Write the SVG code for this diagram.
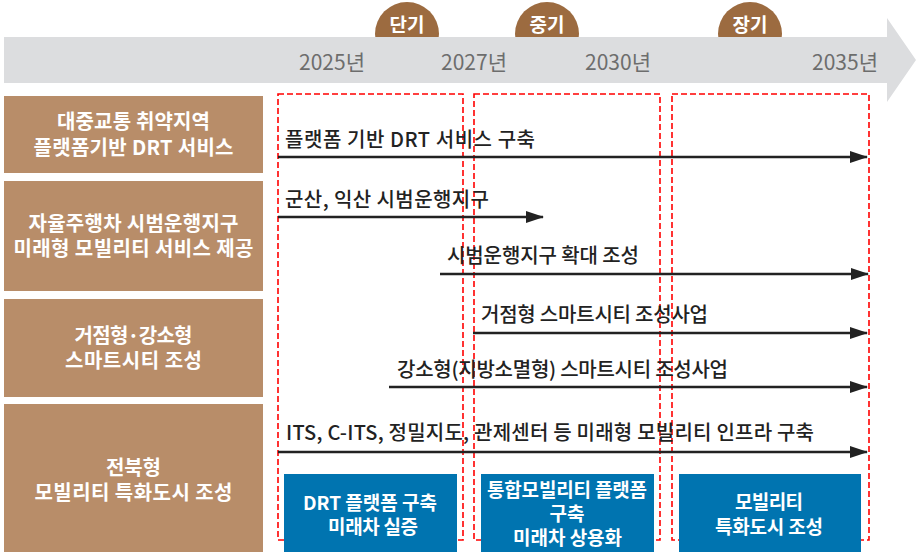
<svg xmlns="http://www.w3.org/2000/svg" width="917" height="552" viewBox="0 0 917 552">
<style>
.t{font-family:"Noto Sans CJK KR","Noto Sans",sans-serif;}
.yr{font-size:21px;fill:#6d6d6d;text-anchor:middle;}
.ph{font-size:19px;fill:#fff;font-weight:bold;text-anchor:middle;}
.cat{fill:#b88d69;}
.ct{font-size:20px;fill:#fff;font-weight:bold;text-anchor:middle;}
.lb{font-size:20px;fill:#222;font-weight:500;}
.ar{stroke:#222;stroke-width:2.5;fill:none;marker-end:url(#ah);}
.dash{fill:none;stroke:#f00;stroke-width:1.6;stroke-dasharray:6 3;}
.bl{fill:#0074b0;}
.bt{font-size:19px;fill:#fff;font-weight:bold;text-anchor:middle;}
</style>
<defs>
<marker id="ah" markerWidth="18" markerHeight="12" refX="17" refY="6" orient="auto" markerUnits="userSpaceOnUse">
<path d="M0,0 L18,6 L0,12 Z" fill="#222"/>
</marker>
</defs>
<g id="timeline">
<circle cx="407" cy="34" r="32" fill="#9c6b40"/>
<circle cx="547" cy="34" r="32" fill="#9c6b40"/>
<circle cx="750" cy="34" r="32" fill="#9c6b40"/>
<text class="t ph" x="407" y="32">단기</text>
<text class="t ph" x="547" y="32">중기</text>
<text class="t ph" x="750" y="32">장기</text>
<path d="M4,37 H887 V18 L916,60 L887,102 V83 H4 Z" fill="#dcdddf"/>
<text class="t yr" x="332" y="70">2025년</text>
<text class="t yr" x="474" y="70">2027년</text>
<text class="t yr" x="618" y="70">2030년</text>
<text class="t yr" x="845" y="70">2035년</text>
</g>
<g id="cat1"><rect class="cat" x="4" y="96" width="259" height="77"/>
<text class="t ct" x="133.5" y="129" textLength="153">대중교통 취약지역</text><text class="t ct" x="133.5" y="155" textLength="200">플랫폼기반 DRT 서비스</text></g>
<g id="cat2"><rect class="cat" x="4" y="181" width="259" height="110"/>
<text class="t ct" x="133.5" y="231" textLength="210">자율주행차 시범운행지구</text><text class="t ct" x="133.5" y="256" textLength="240">미래형 모빌리티 서비스 제공</text></g>
<g id="cat3"><rect class="cat" x="4" y="299" width="259" height="98"/>
<text class="t ct" x="133.5" y="343" textLength="118">거점형·강소형</text><text class="t ct" x="133.5" y="368" textLength="137">스마트시티 조성</text></g>
<g id="cat4"><rect class="cat" x="4" y="404" width="259" height="148"/>
<text class="t ct" x="133.5" y="475" textLength="55">전북형</text><text class="t ct" x="133.5" y="500" textLength="198">모빌리티 특화도시 조성</text></g>
<g id="phases">
<rect class="dash" x="278" y="94" width="185" height="446"/>
<rect class="dash" x="474" y="94" width="186" height="446"/>
<rect class="dash" x="672" y="94" width="197" height="446"/>
</g>
<g id="connectors">
<line class="ar" x1="278" y1="157" x2="867" y2="157"/>
<line class="ar" x1="278" y1="217" x2="543" y2="217"/>
<line class="ar" x1="440" y1="274" x2="868" y2="274"/>
<line class="ar" x1="473" y1="333" x2="867" y2="333"/>
<line class="ar" x1="389" y1="387" x2="867" y2="387"/>
<line class="ar" x1="278" y1="452" x2="867" y2="452"/>
</g>
<g id="labels">
<text class="t lb" x="285" y="147" textLength="250">플랫폼 기반 DRT 서비스 구축</text>
<text class="t lb" x="285" y="207" textLength="204">군산, 익산 시범운행지구</text>
<text class="t lb" x="447" y="263" textLength="192">시범운행지구 확대 조성</text>
<text class="t lb" x="481" y="322" textLength="227">거점형 스마트시티 조성사업</text>
<text class="t lb" x="397" y="377" textLength="331">강소형(지방소멸형) 스마트시티 조성사업</text>
<text class="t lb" x="286" y="440" textLength="528">ITS, C-ITS, 정밀지도, 관제센터 등 미래형 모빌리티 인프라 구축</text>
</g>
<g id="out1"><rect class="bl" x="284" y="474" width="173" height="78"/>
<text class="t bt" x="370" y="510" textLength="134">DRT 플랫폼 구축</text><text class="t bt" x="373" y="534" textLength="90">미래차 실증</text></g>
<g id="out2"><rect class="bl" x="481" y="474" width="173" height="78"/>
<text class="t bt" x="567" y="497" textLength="160">통합모빌리티 플랫폼</text><text class="t bt" x="567" y="521">구축</text><text class="t bt" x="567.5" y="545" textLength="109">미래차 상용화</text></g>
<g id="out3"><rect class="bl" x="679" y="474" width="182" height="78"/>
<text class="t bt" x="769" y="509" textLength="68">모빌리티</text><text class="t bt" x="769" y="534" textLength="108">특화도시 조성</text></g>
</svg>
